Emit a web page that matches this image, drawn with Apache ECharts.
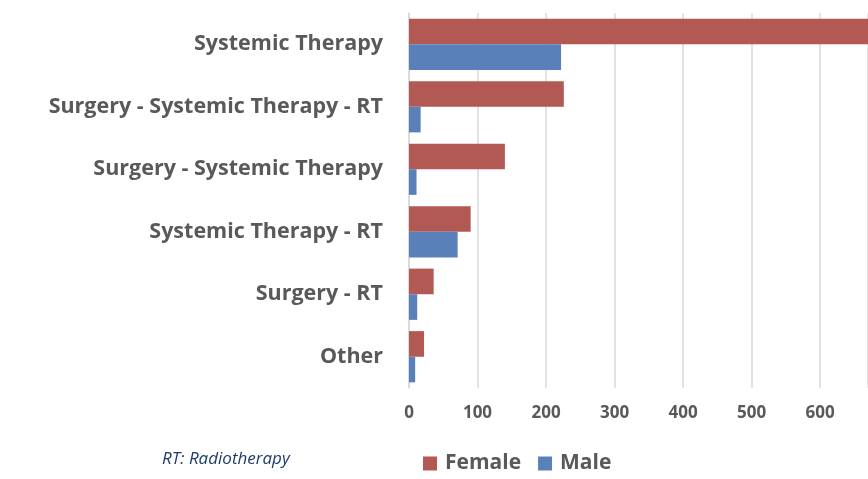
<!DOCTYPE html>
<html>
<head>
<meta charset="utf-8">
<script src="https://cdn.jsdelivr.net/npm/echarts@6/dist/echarts.min.js"></script>
<style>
html,body{margin:0;padding:0;background:#fff;}
#chart{width:868px;height:479px;}
</style>
</head>
<body>
<div id="chart"></div>
<script>
const categories = ["Systemic Therapy", "Surgery - Systemic Therapy - RT", "Surgery - Systemic Therapy", "Systemic Therapy - RT", "Surgery - RT", "Other"];
const female = [700, 226, 140, 90, 36, 22];
const male = [222, 17, 11, 71, 12, 9];
const seriesNames = ["Female", "Male"];
const note = "RT: Radiotherapy";

const chart = echarts.init(document.getElementById('chart'), null, {renderer: 'canvas'});
const labelColor = '#595959';
chart.setOption({
  animation: false,
  grid: {left: 409, right: 0, top: 13, bottom: 91, containLabel: false},
  legend: {
    data: seriesNames,
    left: 418, top: 448,
    icon: 'rect', itemWidth: 14, itemHeight: 14, itemGap: 17,
    textStyle: {fontFamily: 'Open Sans', fontWeight: 'bold', fontSize: 21, color: labelColor, padding: [0,0,0,3]}
  },
  xAxis: {
    type: 'value', min: 0, max: 670, interval: 100,
    axisLine: {show: false}, axisTick: {show: false},
    splitLine: {show: true, lineStyle: {color: '#D9D9D9', width: 1.5}},
    axisLabel: {showMaxLabel: false, margin: 17, fontFamily: 'Open Sans', fontWeight: 'bold', fontSize: 17, color: labelColor}
  },
  yAxis: {
    type: 'category', data: categories, inverse: true,
    axisLine: {show: true, lineStyle: {color: '#D9D9D9', width: 1.5}},
    axisTick: {show: false},
    axisLabel: {margin: 26, fontFamily: 'Open Sans', fontWeight: 'bold', fontSize: 21.5, color: labelColor}
  },
  series: [
    {name: seriesNames[0], type: 'bar', data: female, barGap: '0%', barCategoryGap: '18%', clip: true,
     itemStyle: {color: '#B35953'}},
    {name: seriesNames[1], type: 'bar', data: male, barGap: '0%', barCategoryGap: '18%', clip: true,
     itemStyle: {color: '#5A80B9'}}
  ],
  graphic: [{
    type: 'text', left: 162, top: 451,
    style: {text: note, fontFamily: 'Open Sans', fontStyle: 'italic', fontSize: 17, fill: '#1F3A6E'}
  }]
});
</script>
</body>
</html>
